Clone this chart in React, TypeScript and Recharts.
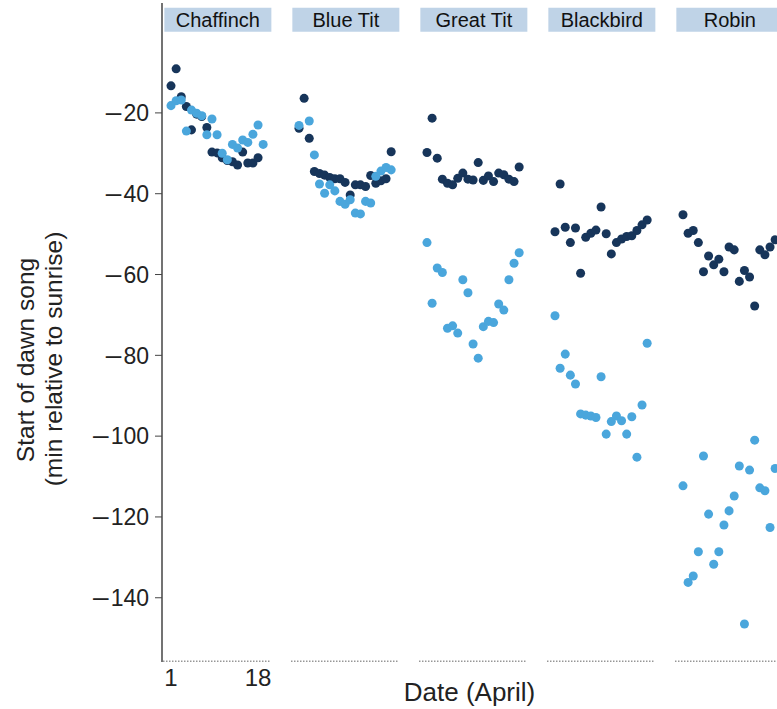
import { ReferenceArea, ReferenceLine, Scatter, ScatterChart, XAxis, YAxis } from 'recharts'

// one panel per species, laid side by side on a shared x scale
const species = ['Chaffinch', 'Blue Tit', 'Great Tit', 'Blackbird', 'Robin']
const days = [1, 2, 3, 4, 5, 6, 7, 8, 9, 10, 11, 12, 13, 14, 15, 16, 17, 18, 19]
const dayTicks = [1, 18]
const songTicks = [-20, -40, -60, -80, -100, -120, -140]

// start of dawn song (min relative to sunrise), dark series
const chaffinchNavy = [-13.3, -9.1, -16, -18.4, -24.2, -20.3, -20.9, -23.6, -29.7, -29.9, -31.1, -31.8, -32.1, -32.9, -29.7, -32.4, -32.4, -31.1, null]
const blueTitNavy = [-23.8, -16.4, -26.3, -34.5, -35, -35.4, -36, -36.3, -36.3, -37.2, -40.3, -37.8, -37.8, -38.2, -35.5, -37.4, -36.8, -36.3, -29.6]
const greatTitNavy = [-29.8, -21.3, -31.2, -36.4, -37.4, -37.8, -36.2, -34.9, -36.4, -36.6, -32.3, -36.7, -35.6, -37, -34.9, -35.3, -36.4, -37, -33.4]
const blackbirdNavy = [-49.4, -37.6, -48.3, -52.1, -48.5, -59.7, -50.8, -49.8, -49, -43.3, -49.9, -54.9, -52.1, -51.2, -50.6, -50.4, -49.1, -47.7, -46.5]
const robinNavy = [-45.2, -49.8, -49.1, -52.1, -59.3, -55.4, -57.6, -56.2, -59.3, -53.2, -53.9, -61.7, -59, -60.6, -67.8, -53.9, -55.1, -53.2, -51.4]

// light series
const chaffinchSky = [-18.2, -17, -16.8, -24.5, -19.3, -20.1, -20.7, -25.4, -21.5, -25.4, -30, -31.6, -27.8, -28.7, -26.7, -27.3, -25.3, -23, -27.8]
const blueTitSky = [-23.1, null, -22, -30.4, -37.6, -39.9, -37.8, -39.3, -41.9, -42.6, -41.5, -44.8, -45, -41.9, -42.3, -35.7, -34.4, -33.5, -34.1]
const greatTitSky = [-52.1, -67.1, -58.4, -59.5, -73.3, -72.7, -74.5, -61.3, -64.5, -77.2, -80.7, -72.9, -71.6, -71.9, -67.3, -68.8, -61.3, -57.2, -54.6]
const blackbirdSky = [-70.2, -83.2, -79.7, -84.9, -87.1, -94.5, -94.8, -95, -95.4, -85.3, -99.5, -96.4, -95, -96.2, -99.5, -95.2, -105.2, -92.3, -77]
const robinSky = [-112.3, -136.2, -134.6, -128.6, -104.9, -119.3, -131.7, -128.6, -122, -118.5, -114.8, -107.4, -146.5, -108.4, -101, -112.8, -113.5, -122.6, -108]

const navySeries = [chaffinchNavy, blueTitNavy, greatTitNavy, blackbirdNavy, robinNavy]
const skySeries = [chaffinchSky, blueTitSky, greatTitSky, blackbirdSky, robinSky]

const PANEL_STRIDE = 25
const FONT = 'Liberation Sans, Arial, Helvetica, sans-serif'

const toPoints = (series: (number | null)[][]) =>
    series.flatMap((values, panel) =>
        values
            .map((v, i) => ({ day: panel * PANEL_STRIDE + days[i], start: v }))
            .filter((p) => p.start !== null)
    )

const navyPoints = toPoints(navySeries)
const skyPoints = toPoints(skySeries)

// negative tick with a long dash for the minus sign
const SongTick = ({ x, y, payload }: any) => (
    <text x={x} y={y} dy="0.36em" textAnchor="end" fontFamily={FONT} fontSize={23} fill="#222">
        {payload.value < 0 && <tspan fontSize={28}>{'\u2013'}</tspan>}
        <tspan dx={2}>{Math.abs(payload.value)}</tspan>
    </text>
)

const SongTitle = () => (
    <g fontFamily={FONT} fontSize={24.5} fill="#222">
        <text x={25} y={360} transform="rotate(-90, 25, 360)" textAnchor="middle" dominantBaseline="central">
            Start of dawn song
        </text>
        <text x={53} y={359} transform="rotate(-90, 53, 359)" textAnchor="middle" dominantBaseline="central">
            (min relative to sunrise)
        </text>
    </g>
)

const App = () => {
    return (
        <div style={{ position: 'absolute', left: 0, top: 0, width: 777, height: 709, overflow: 'hidden', background: '#fff' }}>
            <style>{'body{overflow:hidden}'}</style>
            <ScatterChart width={777} height={709} margin={{ top: 3, right: 0, bottom: 0, left: 0 }}>
                <XAxis
                    type="number"
                    dataKey="day"
                    domain={[-0.76, 119.36]}
                    allowDataOverflow
                    ticks={dayTicks}
                    tickLine={false}
                    axisLine={false}
                    height={47}
                    tickMargin={1}
                    tick={{ fontSize: 24, fill: '#222', fontFamily: FONT }}
                    label={{ value: 'Date (April)', position: 'insideBottom', offset: 8, fontSize: 26, fill: '#222', fontFamily: FONT }}
                />
                <YAxis
                    type="number"
                    dataKey="start"
                    domain={[-155.9, 7.2]}
                    allowDataOverflow
                    ticks={songTicks}
                    width={162}
                    tickSize={7}
                    tickMargin={6}
                    stroke="#444"
                    axisLine={{ stroke: '#444', strokeWidth: 1.5 }}
                    tickLine={{ stroke: '#444', strokeWidth: 1 }}
                    tick={<SongTick />}
                    label={<SongTitle />}
                />
                {species.map((name, panel) => (
                    <ReferenceArea
                        key={name}
                        x1={panel * PANEL_STRIDE - 0.3}
                        x2={panel * PANEL_STRIDE + 20.6}
                        y1={0.1}
                        y2={6}
                        ifOverflow="hidden"
                        fill="#bfd3e7"
                        fillOpacity={1}
                        stroke="none"
                        label={{ value: name, position: 'center', fontSize: 20, fill: '#111', fontFamily: FONT }}
                    />
                ))}
                {species.map((name, panel) => (
                    <ReferenceLine
                        key={`base-${name}`}
                        segment={[
                            { x: panel * PANEL_STRIDE - 0.5, y: -155.9 },
                            { x: panel * PANEL_STRIDE + 20.3, y: -155.9 },
                        ]}
                        ifOverflow="hidden"
                        stroke="#666"
                        strokeWidth={3}
                        strokeDasharray="1 2"
                    />
                ))}
                <Scatter data={navyPoints} fill="#17355a" shape="circle" isAnimationActive={false} />
                <Scatter data={skyPoints} fill="#4aa6dc" shape="circle" isAnimationActive={false} />
            </ScatterChart>
        </div>
    )
}

export default App
